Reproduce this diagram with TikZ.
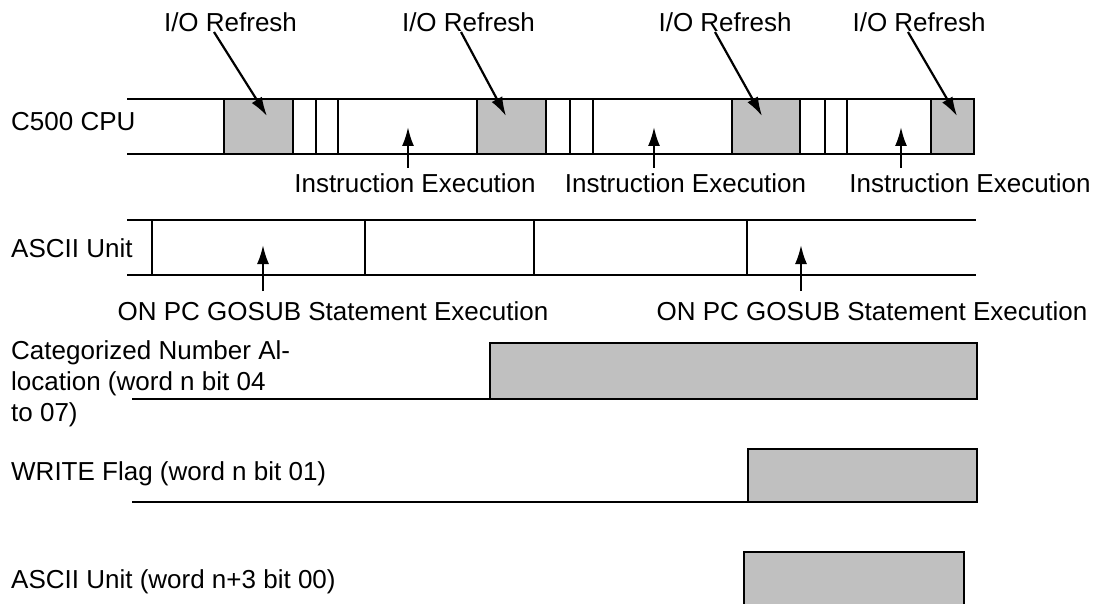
\documentclass[tikz,border=0pt]{standalone}
\usepackage{fontspec}
\setmainfont{Liberation Sans}
\usetikzlibrary{arrows.meta}
\definecolor{boxgray}{RGB}{192,192,192}
\begin{document}
\begin{tikzpicture}[x=1pt,y=-1pt,
  lbl/.style={inner sep=0pt, font=\fontsize{26}{31}\selectfont},
  row/.style={line width=2.4pt},
  thinrow/.style={line width=1.8pt},
  gbox/.style={draw, fill=boxgray, line width=2.6pt},
  arr/.style={line width=2.2pt, -{Latex[length=19pt,width=12pt]}},
]
\useasboundingbox (0,0) rectangle (1099,604);

% ---------- C500 CPU row ----------
\node[lbl, anchor=base west] (cpu) at (11,131) {C500 CPU};
\draw[row] (127,99) -- (974,99);
\draw[row] (127,154) -- (974,154);
\draw[gbox] (224,99) rectangle (293,154);
\draw[gbox] (477,99) rectangle (546,154);
\draw[gbox] (732,99) rectangle (800,154);
\draw[gbox] (931,99) rectangle (974,154);
\foreach \x in {316,338,570,593,825,847} \draw[row] (\x,99) -- (\x,154);

% I/O Refresh labels
\node[lbl, anchor=base] (io1) at (230.5,32) {I/O Refresh};
\node[lbl, anchor=base] (io2) at (468.5,32) {I/O Refresh};
\node[lbl, anchor=base] (io3) at (725,32) {I/O Refresh};
\node[lbl, anchor=base] (io4) at (919,32) {I/O Refresh};
\coordinate (io1s) at (214,32); \coordinate (io1e) at (267,116);
\coordinate (io2s) at (461,32); \coordinate (io2e) at (506,116);
\coordinate (io3s) at (715,32); \coordinate (io3e) at (762,116);
\coordinate (io4s) at (908,32); \coordinate (io4e) at (957,116);
\draw[arr] (io1s) -- (io1e);
\draw[arr] (io2s) -- (io2e);
\draw[arr] (io3s) -- (io3e);
\draw[arr] (io4s) -- (io4e);

% Instruction Execution labels
\node[lbl, anchor=base] (ie1) at (415,192) {Instruction Execution};
\node[lbl, anchor=base] (ie2) at (685.5,192) {Instruction Execution};
\node[lbl, anchor=base] (ie3) at (970,192) {Instruction Execution};
\coordinate (ie1s) at (408,168); \coordinate (ie1e) at (408,127);
\coordinate (ie2s) at (654,168); \coordinate (ie2e) at (654,127);
\coordinate (ie3s) at (901,168); \coordinate (ie3e) at (901,127);
\draw[arr] (ie1s) -- (ie1e);
\draw[arr] (ie2s) -- (ie2e);
\draw[arr] (ie3s) -- (ie3e);

% ---------- ASCII Unit row ----------
\node[lbl, anchor=base west] (asc) at (11,257) {ASCII Unit};
\draw[thinrow] (127,220) -- (976,220);
\draw[thinrow] (127,275) -- (976,275);
\draw[row] (152,220) rectangle (747,275);
\foreach \x in {365,534} \draw[row] (\x,220) -- (\x,275);

\node[lbl, anchor=base] (on1) at (333,320) {ON PC GOSUB Statement Execution};
\node[lbl, anchor=base] (on2) at (872,320) {ON PC GOSUB Statement Execution};
\coordinate (on1s) at (263,291); \coordinate (on1e) at (263,245);
\coordinate (on2s) at (801,291); \coordinate (on2e) at (801,245);
\draw[arr] (on1s) -- (on1e);
\draw[arr] (on2s) -- (on2e);

% ---------- Timing signals ----------
\node[lbl, anchor=base west] (cat1) at (11,359) {Categorized Number Al-};
\node[lbl, anchor=base west] (cat2) at (11,390) {location (word n bit 04};
\node[lbl, anchor=base west] (cat3) at (11,421) {to 07)};
\draw[thinrow] (132,399) -- (490,399);
\draw[gbox] (490,343) rectangle (977,399);

\node[lbl, anchor=base west] (wr) at (11,480) {WRITE Flag (word n bit 01)};
\draw[thinrow] (132,502) -- (748,502);
\draw[gbox] (748,449) rectangle (977,502);

\node[lbl, anchor=base west] (aw) at (11,588) {ASCII Unit (word n+3 bit 00)};
\fill[boxgray] (744,552) rectangle (964,612);
\draw[line width=2.6pt] (744,612) -- (744,552) -- (964,552) -- (964,612);
\end{tikzpicture}
\end{document}
